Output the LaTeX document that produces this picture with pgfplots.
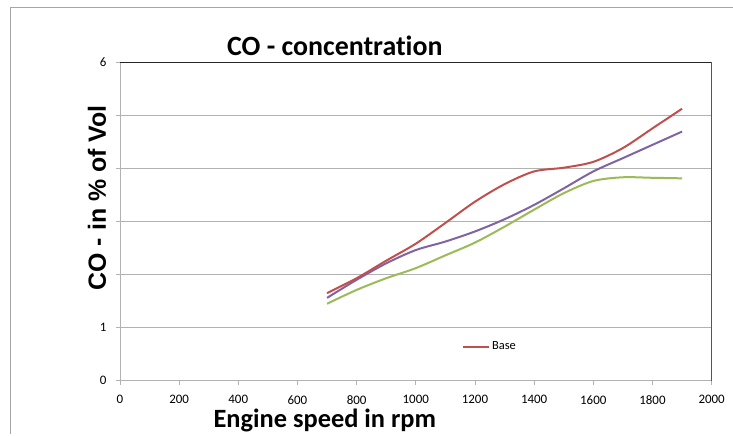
\documentclass[border=0pt]{standalone}
\usepackage{fontspec}
\setmainfont{Carlito}[Ligatures=NoCommon]
\newfontfamily\arialfont{Liberation Sans}
\usepackage{pgfplots}
\pgfplotsset{compat=1.18}
\definecolor{exred}{HTML}{C0504D}
\definecolor{expurple}{HTML}{8064A2}
\definecolor{exgreen}{HTML}{9BBB59}
\begin{document}
\begin{tikzpicture}[x=1bp,y=1bp]
\path (0,0) rectangle (733,434);
\draw[gray!70, line width=0.8bp] (10,0) -- (10,427) -- (733,427);
\begin{axis}[at={(120bp,53bp)}, anchor=south west, scale only axis,
  width=592bp, height=319bp,
  xmin=0, xmax=2000, ymin=0, ymax=6,
  xtick={0,200,...,2000}, ytick={0,1,2,3,4,5,6}, yticklabels={0,1,,,,,6},
  xtick pos=bottom, ytick pos=left,
  ymajorgrids, grid style={gray!60, line width=0.8bp},
  axis line style={gray!60, line width=0.8bp},
  tick style={gray!60, line width=0.8bp},
  tick align=outside, major tick length=4bp,
  /pgf/number format/assume math mode=true,
  /pgf/number format/1000 sep={},
  tick label style={font=\fontsize{13}{15}\selectfont},
  xticklabel style={yshift=-7bp},
  yticklabel style={xshift=-6bp},
  legend style={draw=none, fill=none, at={(rel axis cs:0.578,0.107)}, anchor=west,
    font=\fontsize{12.5}{14}\selectfont, inner sep=0pt},
  legend image code/.code={\draw[#1] (0bp,0bp) -- (26bp,0bp);},
]
\addplot[exgreen, line width=2bp, smooth, forget plot] coordinates {
(700,1.45)(800,1.71)(900,1.93)(1000,2.12)(1100,2.36)(1200,2.60)(1300,2.90)(1400,3.22)(1500,3.53)(1600,3.76)(1700,3.83)(1800,3.82)(1900,3.81)};
\addplot[expurple, line width=2bp, smooth, forget plot] coordinates {
(700,1.56)(800,1.90)(900,2.21)(1000,2.46)(1100,2.62)(1200,2.81)(1300,3.04)(1400,3.31)(1500,3.62)(1600,3.94)(1700,4.19)(1800,4.44)(1900,4.69)};
\addplot[exred, line width=2bp, smooth] coordinates {
(700,1.65)(800,1.93)(900,2.26)(1000,2.58)(1100,2.97)(1200,3.37)(1300,3.70)(1400,3.94)(1500,4.01)(1600,4.12)(1700,4.38)(1800,4.75)(1900,5.12)};
\addlegendentry{Base}
\draw[gray!30!black, line width=0.8bp] (rel axis cs:0,1) -- (rel axis cs:1,1) -- (rel axis cs:1,0);
\end{axis}
\node[font=\fontsize{28}{32}\selectfont\bfseries] at (335,388) {CO - concentration};
\node[font=\fontsize{26.5}{30}\selectfont\bfseries] at (325,13) {Engine speed in rpm};
\node[rotate=90, font=\arialfont\bfseries\fontsize{25}{30}\selectfont] at (97,236) {CO - in \% of Vol};
\end{tikzpicture}
\end{document}
